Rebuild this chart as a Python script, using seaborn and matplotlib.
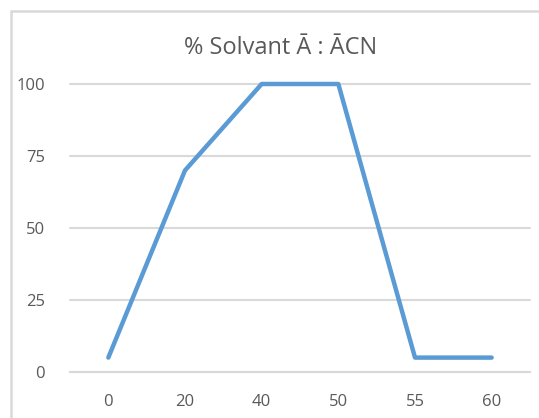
import matplotlib
matplotlib.use("Agg")
import matplotlib.pyplot as plt
import seaborn as sns
import pandas as pd
from matplotlib.patches import Rectangle

# gradient table
temps = ["0", "20", "40", "50", "55", "60"]
solvant_a = [5, 70, 100, 100, 5, 5]
yticks = [0, 25, 50, 75, 100]
title = "% Solvant Ā : ĀCN"

df = pd.DataFrame({"temps": temps, "solvant": solvant_a})

sns.set_style("white")
plt.rcParams['font.family'] = ['Open Sans', 'DejaVu Sans']

fig = plt.figure(figsize=(5.39, 4.18), dpi=100)
ax = fig.add_axes([70 / 539, 46 / 418, 460 / 539, 288 / 418])

sns.lineplot(data=df, x="temps", y="solvant", ax=ax, color="#5B9BD5",
             linewidth=3.2, sort=False)
for ln in ax.get_lines():
    ln.set_solid_capstyle("round")
    ln.set_clip_on(False)

ax.set_xlim(-0.5, len(temps) - 0.5)
ax.set_ylim(0, 100)
ax.set_yticks(yticks)
ax.yaxis.grid(True, color="#D9D9D9", linewidth=1.5)
for gl in ax.get_ygridlines():
    gl.set_clip_on(False)
ax.set_axisbelow(True)
for s in ["top", "right", "left"]:
    ax.spines[s].set_visible(False)
ax.spines["bottom"].set_color("#D9D9D9")
ax.spines["bottom"].set_linewidth(1.5)
ax.tick_params(axis="both", length=0, labelsize=12, labelcolor="#595959")
ax.tick_params(axis="x", pad=16)
ax.tick_params(axis="y", pad=18)
ax.set_xlabel("")
ax.set_ylabel("")

fig.text(281 / 539, 1 - 48 / 418, title, ha="center", va="center",
         fontsize=17, color="#595959")

# outer chart frame (partly cropped)
fig.patches.append(Rectangle((11 / 539, -0.1), 1.2, 1 - 11 / 418 + 0.1,
                             transform=fig.transFigure, fill=False,
                             edgecolor="#D9D9D9", linewidth=1.8))

fig.savefig("out.png", dpi=100)
